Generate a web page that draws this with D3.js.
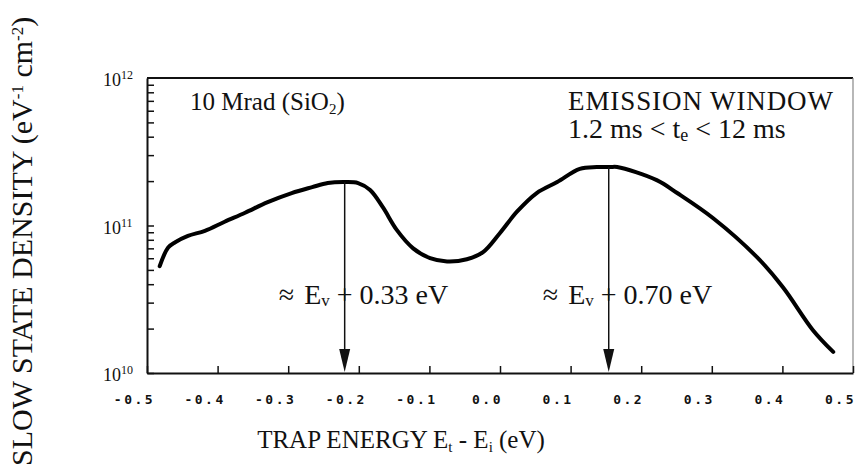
<!DOCTYPE html>
<html>
<head>
<meta charset="utf-8">
<script src="https://cdn.jsdelivr.net/npm/d3@7"></script>
<style>
  body { margin: 0; background: #fff; }
  svg { display: block; }
  .serif { font-family: "Liberation Serif", "Times New Roman", serif; fill: #111; }
  .tick-lab { font-family: "DejaVu Sans Mono", monospace; font-weight: bold; font-size: 13px; letter-spacing: 2.5px; fill: #111; }
</style>
</head>
<body>
<svg width="855" height="470"></svg>
<script>
// trap energy Et - Ei (eV)
var energy = [-0.482, -0.470, -0.460, -0.442, -0.418, -0.390, -0.361, -0.329, -0.295, -0.266,
  -0.244, -0.220, -0.201, -0.184, -0.166, -0.146, -0.123, -0.099, -0.075, -0.047,
  -0.024, 0.000, 0.024, 0.052, 0.081, 0.113, 0.137, 0.156, 0.166, 0.222,
  0.251, 0.302, 0.364, 0.401, 0.443, 0.472];
// slow state density (eV-1 cm-2)
var density = [5.3e10, 7.1e10, 7.7e10, 8.5e10, 9.2e10, 1.06e11, 1.22e11, 1.44e11, 1.66e11, 1.82e11,
  1.94e11, 1.97e11, 1.94e11, 1.74e11, 1.33e11, 9.3e10, 7.0e10, 6.0e10, 5.7e10, 5.9e10,
  6.6e10, 8.9e10, 1.24e11, 1.66e11, 1.97e11, 2.42e11, 2.49e11, 2.49e11, 2.49e11, 2.03e11,
  1.66e11, 1.12e11, 6.1e10, 3.8e10, 1.96e10, 1.39e10];

var xTicks = [-0.5, -0.4, -0.3, -0.2, -0.1, 0.0, 0.1, 0.2, 0.3, 0.4, 0.5];
var yDecades = [10, 11, 12];
var peaks = [
  { e: -0.220, label: "+ 0.33 eV" },
  { e: 0.154, label: "+ 0.70 eV" }
];
var peakDensity = [1.97e11, 2.49e11];

var svg = d3.select('svg');
var x = d3.scaleLinear().domain([-0.5, 0.5]).range([147, 853]);
var y = d3.scaleLog().domain([1e10, 1e12]).range([373, 78]);

// minor log ticks 2..9 inside each decade, plus decades
var yTicks = [];
[1e10, 1e11].forEach(function(base) {
  for (var k = 1; k <= 9; k++) yTicks.push(base * k);
});

// frame
svg.append('line').attr('x1', x(-0.5)).attr('x2', x(0.5)).attr('y1', y(1e12)).attr('y2', y(1e12))
  .attr('stroke', '#111').attr('stroke-width', 1.8);
svg.append('line').attr('x1', x(0.5)).attr('x2', x(0.5)).attr('y1', y(1e12)).attr('y2', y(1e10))
  .attr('stroke', '#888').attr('stroke-width', 1.2);

var xAxis = svg.append('g')
  .attr('transform', 'translate(0,' + y(1e10) + ')')
  .call(d3.axisBottom(x).tickValues(xTicks).tickSize(-7).tickSizeOuter(0)
    .tickFormat(function(d) { return d.toFixed(1); }));
xAxis.select('.domain').attr('stroke', '#111').attr('stroke-width', 2);
xAxis.selectAll('.tick line').attr('stroke', '#111').attr('stroke-width', 1.5);
xAxis.selectAll('.tick text').attr('class', 'tick-lab').attr('x', -13).attr('y', 22)
  .attr('font-size', null).attr('font-family', null).attr('fill', null);

var yAxis = svg.append('g')
  .attr('transform', 'translate(' + x(-0.5) + ',0)')
  .call(d3.axisLeft(y).tickValues(yTicks).tickSize(-7).tickSizeOuter(0).tickFormat(''));
yAxis.select('.domain').attr('stroke', '#111').attr('stroke-width', 2);
yAxis.selectAll('.tick line').attr('stroke', '#111').attr('stroke-width', 1.5);

// decade labels 10^n
yDecades.forEach(function(p) {
  var t = svg.append('text').attr('class', 'serif')
    .attr('x', 103).attr('y', y(Math.pow(10, p)) + 8)
    .attr('font-size', 18);
  t.append('tspan').text('10');
  t.append('tspan').attr('dy', -7).attr('font-size', 12).text(p);
});

// curve
var pts = energy.map(function(e, i) { return [e, density[i]]; });
svg.append('path').datum(pts)
  .attr('fill', 'none').attr('stroke', '#000').attr('stroke-width', 4)
  .attr('stroke-linejoin', 'round').attr('stroke-linecap', 'round')
  .attr('d', d3.line()
    .x(function(d) { return x(d[0]); })
    .y(function(d) { return y(d[1]); })
    .curve(d3.curveCatmullRom.alpha(0.5)));

// peak arrows
peaks.forEach(function(p, i) {
  var px = x(p.e);
  svg.append('line').attr('x1', px).attr('x2', px)
    .attr('y1', y(peakDensity[i])).attr('y2', y(1e10) - 16)
    .attr('stroke', '#111').attr('stroke-width', 1.5);
  svg.append('path')
    .attr('d', 'M' + (px - 5.5) + ',' + (y(1e10) - 24) + 'L' + (px + 5.5) + ',' + (y(1e10) - 24) + 'L' + px + ',' + (y(1e10) - 1) + 'Z')
    .attr('fill', '#111');
  var t = svg.append('text').attr('class', 'serif').attr('font-size', 28)
    .attr('y', 304);
  t.append('tspan').text('\u2248');
  t.append('tspan').attr('dx', 10).text('E');
  t.append('tspan').attr('font-size', 17).attr('dy', 2).text('v');
  t.append('tspan').attr('dy', -2).text(' ' + p.label);
  // place so that the "+" sits on the arrow line
  var node = t.node();
  var plusStart = node.getSubStringLength(0, 4) + 10;
  var plusW = node.getSubStringLength(4, 1);
  t.attr('x', px - plusStart - plusW / 2);
});

// annotations
svg.append('text').attr('class', 'serif').attr('font-size', 25)
  .attr('x', 190).attr('y', 110)
  .call(function(t) {
    t.append('tspan').text('10 Mrad (SiO');
    t.append('tspan').attr('font-size', 15).attr('dy', 4).text('2');
    t.append('tspan').attr('dy', -4).text(')');
  });
svg.append('text').attr('class', 'serif').attr('font-size', 27)
  .attr('x', 568).attr('y', 110).attr('textLength', 265).text('EMISSION WINDOW');
svg.append('text').attr('class', 'serif').attr('font-size', 28)
  .attr('x', 568).attr('y', 138)
  .call(function(t) {
    t.append('tspan').text('1.2 ms < t');
    t.append('tspan').attr('font-size', 18).attr('dy', 3).text('e');
    t.append('tspan').attr('dy', -3).text(' < 12 ms');
  });

// axis titles
svg.append('text').attr('class', 'serif').attr('font-size', 25)
  .attr('x', 401).attr('y', 448).attr('text-anchor', 'middle')
  .call(function(t) {
    t.append('tspan').text('TRAP ENERGY E');
    t.append('tspan').attr('font-size', 15).attr('dy', 4).text('t');
    t.append('tspan').attr('dy', -4).text(' - E');
    t.append('tspan').attr('font-size', 15).attr('dy', 4).text('i');
    t.append('tspan').attr('dy', -4).text(' (eV)');
  });
svg.append('text').attr('class', 'serif').attr('font-size', 30)
  .attr('transform', 'translate(32,466) rotate(-90)')
  .call(function(t) {
    t.append('tspan').text('SLOW STATE DENSITY (eV');
    t.append('tspan').attr('font-size', 17).attr('dy', -9).text('-1');
    t.append('tspan').attr('dy', 9).text(' cm');
    t.append('tspan').attr('font-size', 17).attr('dy', -9).text('-2');
    t.append('tspan').attr('dy', 9).text(')');
  });
</script>
</body>
</html>
